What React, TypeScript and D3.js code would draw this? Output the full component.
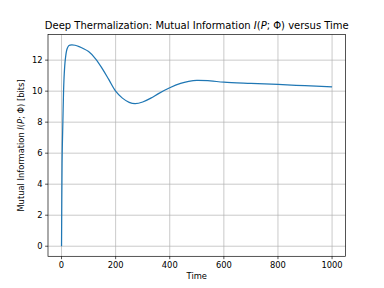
import * as d3 from "d3";

const times = [0, 1, 2, 3, 5, 7.5, 10, 14, 20, 26, 32, 38, 50, 65, 80, 100, 125, 150, 175, 200, 225, 250, 272, 300, 330, 360, 400, 440, 470, 500, 550, 600, 700, 800, 900, 1000];
const info = [0, 3, 5.3, 6.5, 8.05, 10, 11.1, 12.05, 12.7, 12.92, 12.97, 12.99, 12.96, 12.87, 12.75, 12.55, 12.1, 11.47, 10.74, 10.0, 9.55, 9.28, 9.2, 9.3, 9.55, 9.86, 10.22, 10.5, 10.63, 10.7, 10.66, 10.58, 10.5, 10.43, 10.35, 10.27];
const xTicks = [0, 200, 400, 600, 800, 1000];
const yTicks = [0, 2, 4, 6, 8, 10, 12];

const W = 384;
const H = 288;
const left = 48;
const right = 345.6;
const top = 34.56;
const bottom = 256.3;

export default function App() {
  const x = d3.scaleLinear().domain([-50, 1050]).range([left, right]);
  const y = d3.scaleLinear().domain([-0.65, 13.65]).range([bottom, top]);
  const pts: [number, number][] = times.map((t, i) => [t, info[i]]);
  const line = d3
    .line<[number, number]>()
    .x((d) => x(d[0]))
    .y((d) => y(d[1]))
    .curve(d3.curveCatmullRom.alpha(0.5));
  const font = "DejaVu Sans";

  return (
    <svg
      width={W}
      height={H}
      style={{ position: "absolute", left: 0, top: 0 }}
      fontFamily={font}
    >
      <rect width={W} height={H} fill="#fff" />
      {/* grid */}
      {xTicks.map((t) => (
        <line key={"gx" + t} x1={x(t)} x2={x(t)} y1={top} y2={bottom} stroke="#b0b0b0" strokeWidth={0.67} />
      ))}
      {yTicks.map((t) => (
        <line key={"gy" + t} x1={left} x2={right} y1={y(t)} y2={y(t)} stroke="#b0b0b0" strokeWidth={0.67} />
      ))}
      <path d={line(pts) ?? ""} fill="none" stroke="#1f77b4" strokeWidth={1.25} />
      <rect x={left} y={top} width={right - left} height={bottom - top} fill="none" stroke="#000" strokeWidth={0.67} />
      {/* ticks */}
      {xTicks.map((t) => (
        <g key={"tx" + t}>
          <line x1={x(t)} x2={x(t)} y1={bottom} y2={bottom + 2.9} stroke="#000" strokeWidth={0.67} />
          <text x={x(t)} y={bottom + 11.5} fontSize={8.33} textAnchor="middle">
            {t}
          </text>
        </g>
      ))}
      {yTicks.map((t) => (
        <g key={"ty" + t}>
          <line x1={left - 2.9} x2={left} y1={y(t)} y2={y(t)} stroke="#000" strokeWidth={0.67} />
          <text x={left - 5.5} y={y(t) + 3} fontSize={8.33} textAnchor="end">
            {t}
          </text>
        </g>
      ))}
      <text x={(left + right) / 2} y={bottom + 23} fontSize={8.33} textAnchor="middle">
        Time
      </text>
      <text
        transform={`translate(${23.5},${(top + bottom) / 2}) rotate(-90)`}
        fontSize={8.33}
        textAnchor="middle"
      >
        Mutual Information <tspan fontStyle="italic">I</tspan>(<tspan fontStyle="italic">P</tspan>; Φ) [bits]
      </text>
      <text x={(left + right) / 2} y={top - 6} fontSize={10} textAnchor="middle">
        Deep Thermalization: Mutual Information <tspan fontStyle="italic">I</tspan>(<tspan fontStyle="italic">P</tspan>; Φ) versus Time
      </text>
    </svg>
  );
}
